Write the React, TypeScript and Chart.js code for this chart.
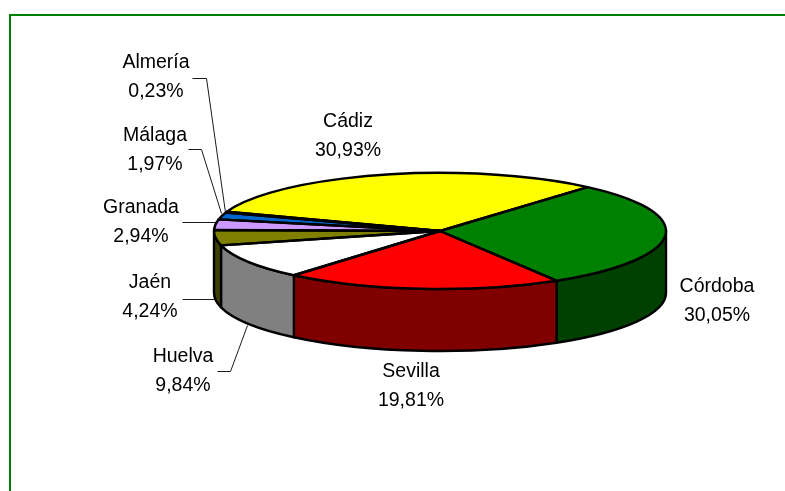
import { useEffect, useRef } from "react";
import { Chart, registerables } from "chart.js";

Chart.register(...registerables);

const categories = ["Córdoba", "Sevilla", "Huelva", "Jaén", "Granada", "Málaga", "Almería", "Cádiz"];
const shares = [30.05, 19.81, 9.84, 4.24, 2.94, 1.97, 0.23, 30.93];
const topColors = ["#008000", "#FF0000", "#FFFFFF", "#808000", "#CC99FF", "#0066CC", "#CCFFFF", "#FFFF00"];
const sideColors = ["#004000", "#800000", "#808080", "#404000", "#664C80", "#003366", "#668080", "#808000"];

// Layout only: where each label sits, and the bends of its leader line.
const labelCentres: [number, number][] = [
  [717, 286.5], [411, 371.5], [183, 356.5], [150, 283], [141, 207.5], [155, 135.5], [156, 62.5], [348, 121.5],
];
const leaders: [number, number][][] = [
  [], [],
  [[217, 371], [230, 371], [247, 325]],
  [[182, 299], [215, 299]],
  [[182, 222], [216, 222]],
  [[188, 149], [201, 149], [221, 213]],
  [[192, 78], [206, 78], [225, 212]],
  [],
];

const SQUASH = 58 / 226;
const DEPTH = 62;
const TWO_PI = Math.PI * 2;

const pie3d = {
  id: "pie3d",
  beforeDatasetsDraw(chart: any) {
    const ctx: CanvasRenderingContext2D = chart.ctx;
    const arcs = chart.getDatasetMeta(0).data;
    const { x: cx, y: cy, outerRadius: r } = arcs[0];
    const ry = r * SQUASH;
    const squashed = (fn: () => void) => {
      ctx.save();
      ctx.translate(cx, cy);
      ctx.scale(1, SQUASH);
      ctx.translate(-cx, -cy);
      fn();
      ctx.restore();
    };
    ctx.save();
    ctx.strokeStyle = "#000000";
    ctx.lineWidth = 2.4;
    ctx.lineJoin = "round";

    // Side walls: the part of each slice on the front half of the rim.
    arcs.forEach((arc: any, i: number) => {
      for (const k of [-1, 0, 1]) {
        const a = Math.max(arc.startAngle + k * TWO_PI, 0);
        const b = Math.min(arc.endAngle + k * TWO_PI, Math.PI);
        if (b <= a) continue;
        ctx.beginPath();
        ctx.ellipse(cx, cy, r, ry, 0, a, b, false);
        ctx.lineTo(cx + r * Math.cos(b), cy + ry * Math.sin(b) + DEPTH);
        ctx.ellipse(cx, cy + DEPTH, r, ry, 0, b, a, true);
        ctx.closePath();
        ctx.fillStyle = sideColors[i];
        ctx.fill();
        ctx.stroke();
      }
    });

    // Top faces, drawn by the library's own arc elements, squashed.
    arcs.forEach((arc: any) => squashed(() => arc.draw(ctx)));
    arcs.forEach((arc: any) => {
      ctx.beginPath();
      ctx.moveTo(cx, cy);
      ctx.ellipse(cx, cy, r, ry, 0, arc.startAngle, arc.endAngle, false);
      ctx.closePath();
      ctx.stroke();
    });
    ctx.restore();
    return false;
  },
  afterDraw(chart: any) {
    const ctx: CanvasRenderingContext2D = chart.ctx;
    ctx.save();
    // Green frame, open on the right and bottom.
    ctx.strokeStyle = "#008000";
    ctx.lineWidth = 2;
    ctx.beginPath();
    ctx.moveTo(10, 491);
    ctx.lineTo(10, 15);
    ctx.lineTo(785, 15);
    ctx.stroke();

    // Leader lines.
    ctx.strokeStyle = "#1a1a1a";
    ctx.lineWidth = 1;
    leaders.forEach((pts) => {
      if (!pts.length) return;
      ctx.beginPath();
      pts.forEach(([x, y], j) => (j ? ctx.lineTo(x + 0.5, y + 0.5) : ctx.moveTo(x + 0.5, y + 0.5)));
      ctx.stroke();
    });

    // Labels.
    ctx.fillStyle = "#000000";
    ctx.font = '19.5px "Liberation Sans"';
    ctx.textAlign = "center";
    ctx.textBaseline = "middle";
    chart.data.labels.forEach((name: string, i: number) => {
      const [x, y] = labelCentres[i];
      ctx.fillText(name, x, y);
      ctx.fillText(shares[i].toFixed(2).replace(".", ",") + "%", x, y + 29);
    });
    ctx.restore();
  },
};

export default function App() {
  const ref = useRef<HTMLCanvasElement>(null);
  useEffect(() => {
    const chart = new Chart(ref.current!, {
      type: "pie",
      data: {
        labels: categories,
        datasets: [{ data: shares, backgroundColor: topColors, borderWidth: 0 }],
      },
      options: {
        animation: false,
        responsive: false,
        rotation: 40.8,
        events: [],
        layout: { padding: { left: 214, right: 119, top: 5, bottom: 34 } },
        plugins: { legend: { display: false }, tooltip: { enabled: false } },
      },
      plugins: [pie3d],
    } as any);
    return () => chart.destroy();
  }, []);
  return (
    <div style={{ position: "absolute", left: 0, top: 0, width: 785, height: 491, background: "#fff" }}>
      <canvas ref={ref} width={785} height={491} style={{ display: "block" }} />
    </div>
  );
}
